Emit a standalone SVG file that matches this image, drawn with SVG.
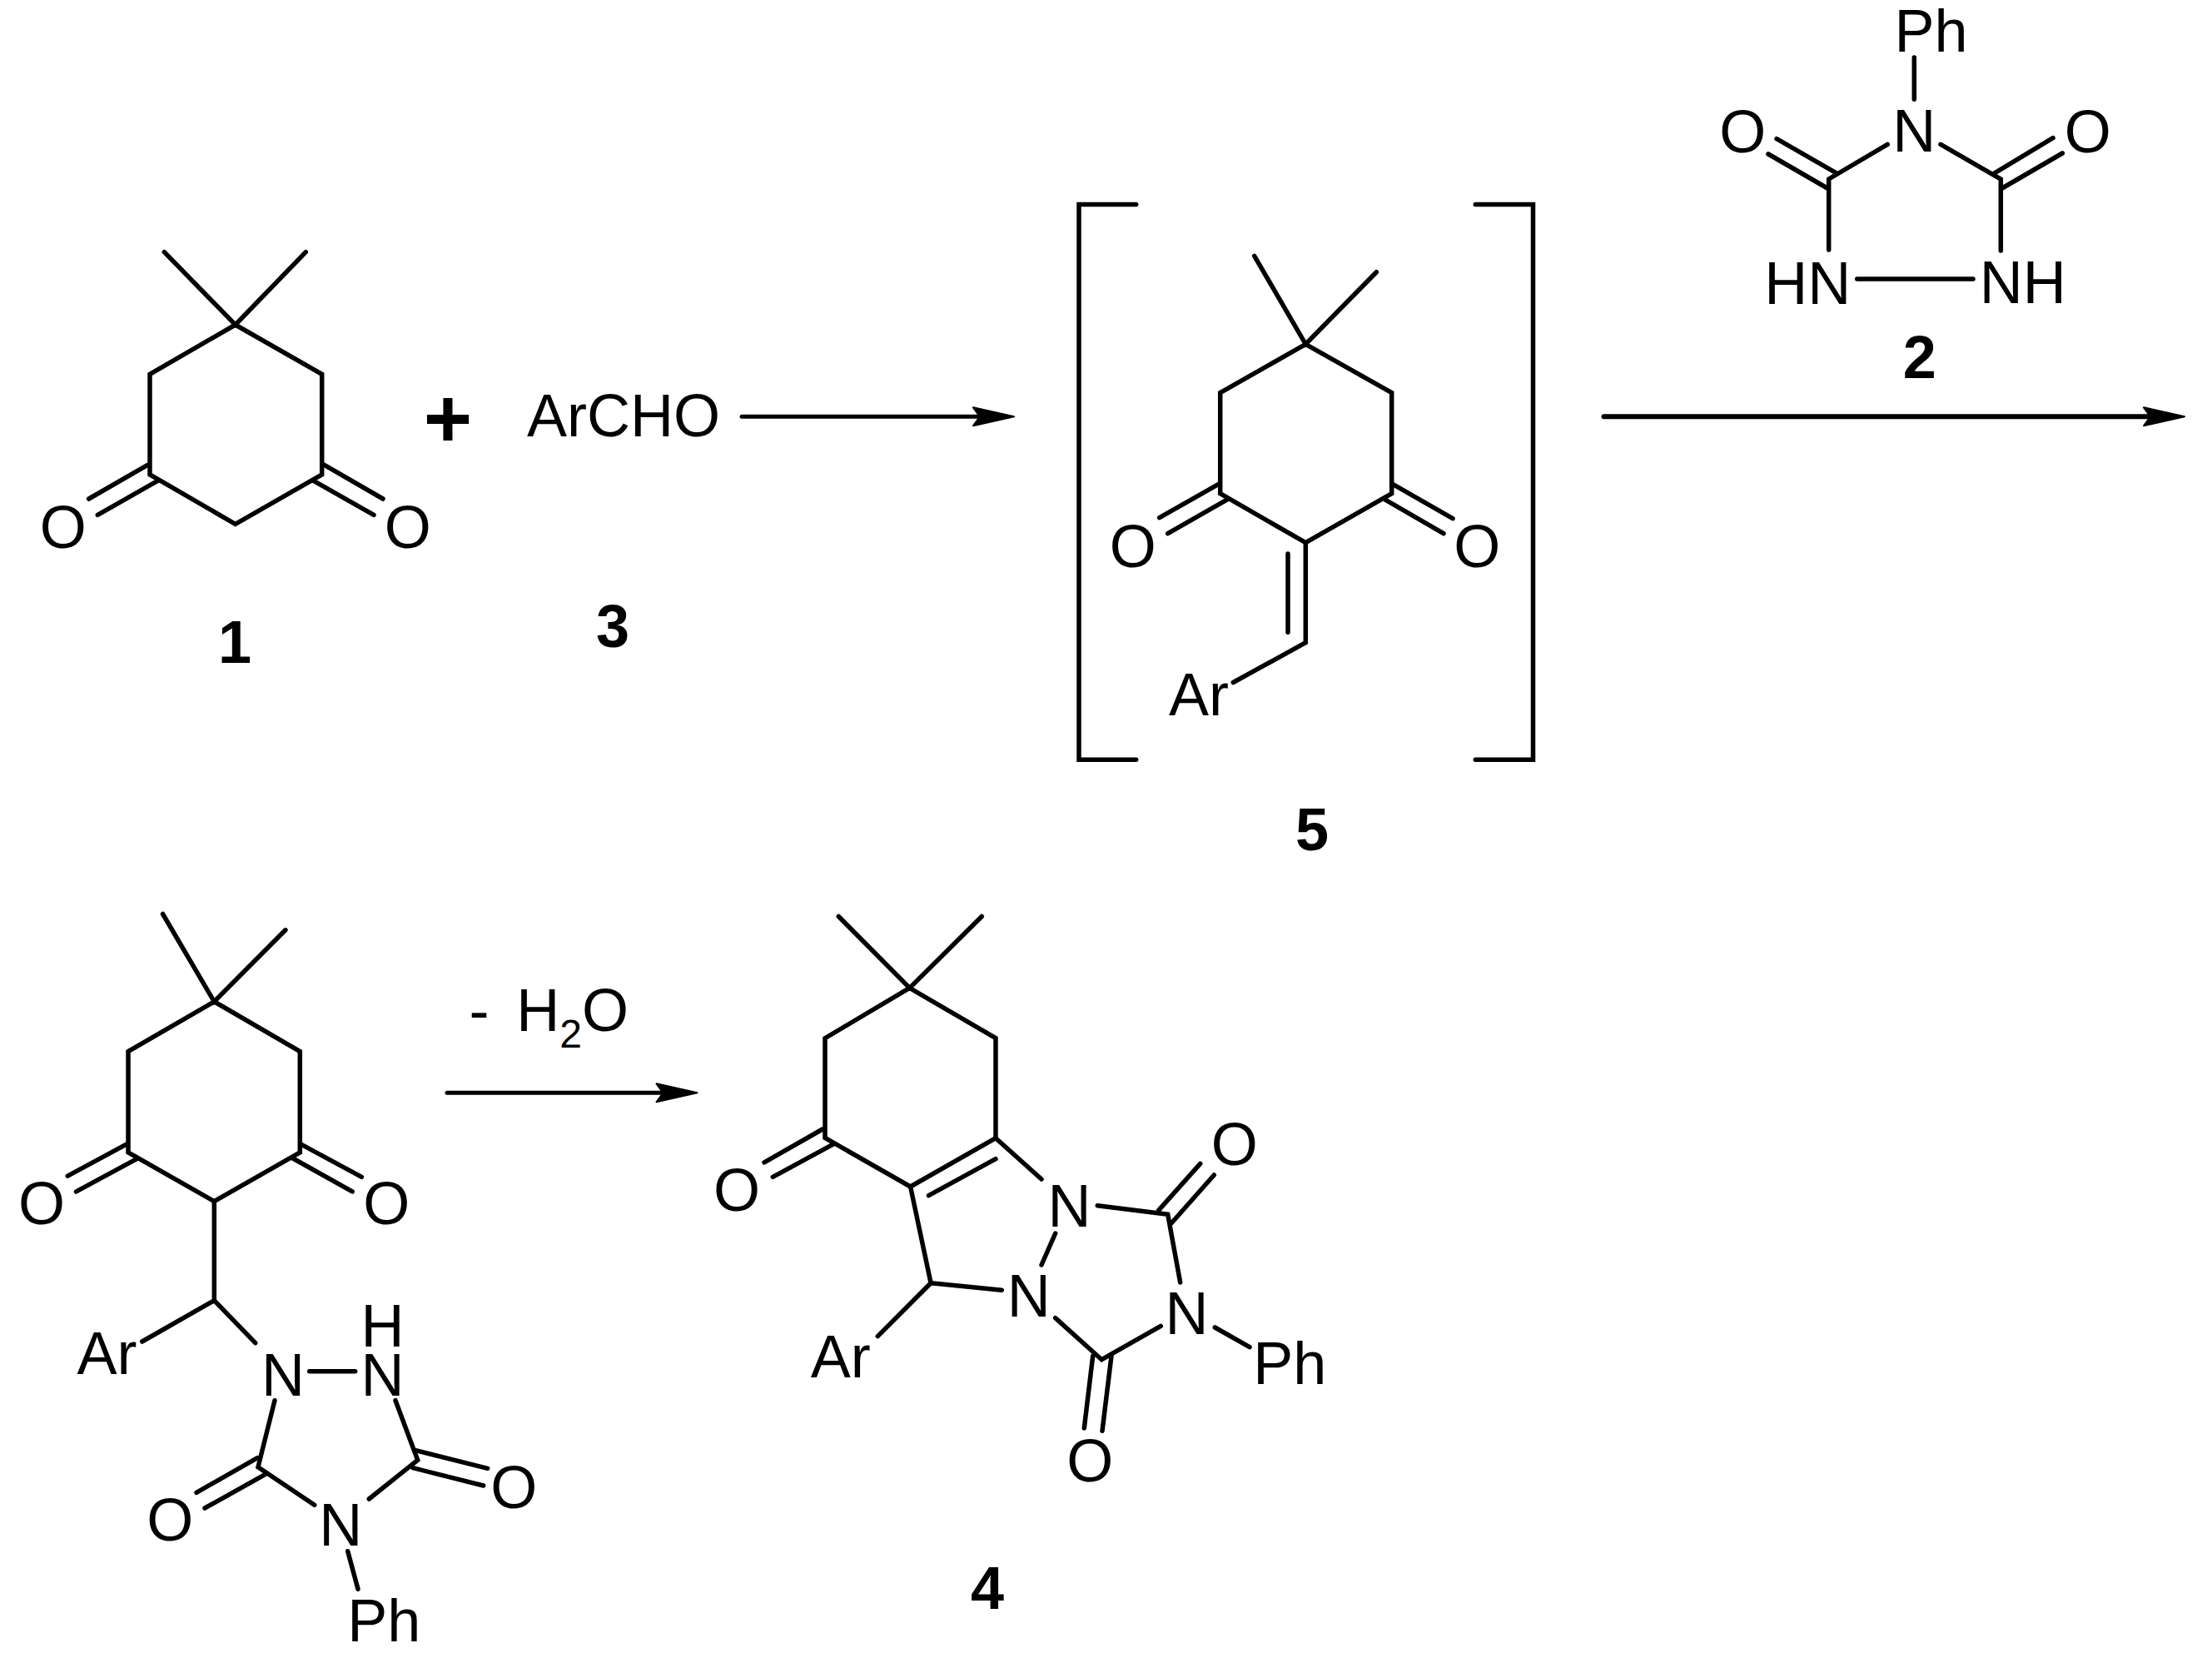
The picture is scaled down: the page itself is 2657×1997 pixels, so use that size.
<svg xmlns="http://www.w3.org/2000/svg" width="2657" height="1997" viewBox="0 0 2657 1997">
<style>
.b{fill:none;stroke:#000;stroke-width:5.5;stroke-linecap:round;stroke-linejoin:miter}
text{font-family:"Liberation Sans",Arial,sans-serif;font-size:72px;fill:#000}
.m{text-anchor:middle}
.l{font-weight:bold;text-anchor:middle}
.a{fill:none;stroke:#000;stroke-width:5;stroke-linecap:round}
</style>
<defs>
<marker id="ah" markerUnits="userSpaceOnUse" markerWidth="60" markerHeight="40" refX="9" refY="20" orient="auto" overflow="visible"><path d="M1,9 L50,20 L1,31 L9,20 Z" fill="#000" stroke="#000" stroke-width="2" stroke-linejoin="round"/></marker>
</defs>
<rect width="2657" height="1997" fill="#fff"/>
<g id="mol1">
<path class="b" d="M197.3,302.7L282.7,390L367.3,302.7M282.7,390L180,449.3V570L282.7,629.3L386.7,570V449.3Z"/>
<path class="b" d="M106.7,599L177.3,558.3M117.3,618.3L190.7,576.7M460,599L388.3,557.7M449,618.3L376.7,577.3"/>
<text class="m" x="75.8" y="657.5">O</text><text class="m" x="489.7" y="657.5">O</text>
<text class="l" x="282" y="795.5">1</text>
</g>
<g id="plus"><text x="538" y="537" text-anchor="middle" font-weight="bold" style="font-size:100px">+</text></g>
<g id="mol3"><text x="633" y="523.6">ArCHO</text><text class="l" x="736" y="777">3</text></g>
<g id="mol5">
<path class="b" d="M1364.7,245.5H1296V912.3H1364.7M1772.3,245.5H1841.5V912.3H1772.3"/>
<path class="b" d="M1506.7,307.3L1568.3,413.3L1653.3,326.7M1568.3,413.3L1465.7,471.7V592.7L1568.3,651.7L1671.7,592.7V471.7Z"/>
<path class="b" d="M1392.7,621.7L1463.3,581.7M1402.7,640.7L1475,599.3M1745,622.7L1673.3,581.7M1734,640.7L1662.7,599.3"/>
<path class="b" d="M1568.3,651.7V771.7L1481.3,819.5M1547,665V759.3"/>
<text class="m" x="1360.7" y="680.7">O</text><text class="m" x="1774.3" y="680.7">O</text>
<text x="1404" y="858.8">Ar</text>
<text class="l" x="1576" y="1021">5</text>
</g>
<g id="mol2">
<path class="b" d="M2299.3,69V119.3M2267.3,173.3L2196.7,215V300M2331,173.3L2403.3,215V301M2230.7,335H2370"/>
<path class="b" d="M2134,166.7L2206.7,208.3M2124,185L2195,226M2466,165.7L2395,208.3M2477.3,184L2405,226"/>
<text x="2275.5" y="62.3">Ph</text>
<text class="m" x="2299.3" y="182.3">N</text>
<text class="m" x="2093.3" y="183.3">O</text><text class="m" x="2507.7" y="183.3">O</text>
<text x="2119.3" y="364.5">HN</text><text x="2377.8" y="363.5">NH</text>
<text class="l" x="2305.8" y="453.5">2</text>
</g>
<g id="intermediate">
<path class="b" d="M195.5,1097.5L257.3,1202.8L342.9,1116.8M257.3,1202.8L154,1262.5V1384L257.3,1442.6L360.3,1384V1262.5Z"/>
<path class="b" d="M81.3,1412.2L151.8,1374.2M91.5,1430.9L164.3,1391.7M434.4,1413.3L361.6,1374.2M423.2,1430.9L351.8,1391"/>
<path class="b" d="M257.3,1442.6V1561.7L170.7,1611M257.3,1561.7L306.7,1612.7M371.7,1646.7H426.7"/>
<path class="b" d="M330,1681.7L310,1761.7L377.7,1807.3M475,1681.7L501.7,1753.3L443.3,1800"/>
<path class="b" d="M236,1792.3L309.3,1750.7M246,1811L318.3,1770.7M585.7,1763.3L499.3,1741.7M580.7,1784L496,1762.7M417.7,1862.7L430,1908.3"/>
<text class="m" x="50" y="1469.5">O</text><text class="m" x="464.3" y="1469.5">O</text>
<text x="92.4" y="1650">Ar</text>
<text class="m" x="340" y="1675.7">N</text>
<text class="m"><tspan x="459.5" y="1616.7">H</tspan><tspan x="459.5" y="1675.7">N</tspan></text>
<text class="m" x="204.3" y="1850">O</text><text class="m" x="617.3" y="1811.3">O</text>
<text class="m" x="409.3" y="1856">N</text>
<text x="417.2" y="1971">Ph</text>
</g>
<g id="mol4">
<path class="b" d="M1007.3,1100.5L1092.6,1186.4L1179.3,1100.5M1092.6,1186.4L991,1246.7V1366.5L1093.6,1425L1196,1366.7V1246.7Z"/>
<path class="b" d="M918,1395.8L988,1356M928.3,1413.3L1000.7,1374.2M1115.5,1435.6L1196,1391.7"/>
<path class="b" d="M1093.6,1425L1118.1,1540.8L1203.3,1549.3M1118.1,1540.8L1054.3,1604.6M1196,1366.7L1251,1416M1267.7,1481L1251,1519"/>
<path class="b" d="M1318.3,1447.7L1402.7,1458.3L1417.7,1540M1391.7,1453.3L1441.7,1397.3M1406.7,1469.3L1458.3,1411"/>
<path class="b" d="M1267.7,1582.7L1323.3,1632.7L1394.3,1592.3M1312.7,1628.3L1302.3,1715M1335,1628.3L1324,1718.3M1459.3,1594L1501,1617.7"/>
<text class="m" x="884.9" y="1454.3">O</text>
<text x="973.7" y="1654.3">Ar</text>
<text class="m" x="1284.5" y="1473.3">N</text><text class="m" x="1235.8" y="1581">N</text><text class="m" x="1425.5" y="1602.3">N</text>
<text class="m" x="1482.7" y="1399">O</text><text class="m" x="1309.3" y="1779">O</text>
<text x="1505.2" y="1661.7">Ph</text>
<text class="l" x="1186" y="1932">4</text>
</g>
<g id="conditions"><text x="563.5" y="1237.7">- <tspan x="620.3">H</tspan><tspan dy="20.6" style="font-size:48px">2</tspan><tspan dy="-20.6">O</tspan></text></g>
<g id="connectors">
<line class="a" x1="891" y1="500.3" x2="1177" y2="500.3" marker-end="url(#ah)"/>
<line class="a" x1="1926.5" y1="500.3" x2="2583" y2="500.3" marker-end="url(#ah)" style="stroke-width:6"/>
<line class="a" x1="537" y1="1312.3" x2="796.5" y2="1312.3" marker-end="url(#ah)"/>
</g>
</svg>
